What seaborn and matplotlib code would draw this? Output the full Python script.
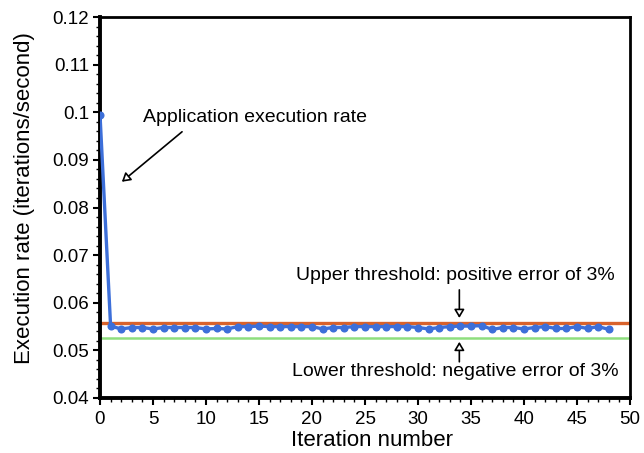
import numpy as np
import pandas as pd
import seaborn as sns
import matplotlib
matplotlib.use("Agg")
import matplotlib.pyplot as plt
from matplotlib.ticker import MultipleLocator

iterations = list(range(0, 49))
rates = [0.0995,
         0.0551, 0.0545, 0.0548, 0.0548, 0.0545, 0.0548, 0.0548, 0.0548, 0.0548, 0.0545,
         0.0546, 0.0545, 0.0550, 0.0550, 0.0551, 0.0550, 0.0550, 0.0550, 0.0550, 0.0550,
         0.0545, 0.0548, 0.0548, 0.0550, 0.0550, 0.0550, 0.0550, 0.0550, 0.0550, 0.0548,
         0.0545, 0.0548, 0.0550, 0.0551, 0.0551, 0.0552, 0.0544, 0.0548, 0.0548, 0.0545,
         0.0548, 0.0550, 0.0546, 0.0546, 0.0550, 0.0546, 0.0550, 0.0544]
upper_threshold = 0.0557
lower_threshold = 0.0525
x_ticks = [0, 5, 10, 15, 20, 25, 30, 35, 40, 45, 50]
y_ticks = [0.04, 0.05, 0.06, 0.07, 0.08, 0.09, 0.1, 0.11, 0.12]
y_tick_labels = ["0.04", "0.05", "0.06", "0.07", "0.08", "0.09", "0.1", "0.11", "0.12"]

df = pd.DataFrame({"Iteration": iterations, "Rate": rates})

sns.set_style("ticks")
plt.rcParams["font.family"] = ["Liberation Sans", "DejaVu Sans"]
plt.rcParams["text.color"] = "black"
plt.rcParams["axes.labelcolor"] = "black"
plt.rcParams["xtick.color"] = "black"
plt.rcParams["ytick.color"] = "black"

fig = plt.figure(figsize=(6.44, 4.53), dpi=100)
ax = fig.add_axes([100/644, 1-398/453, 530/644, 381/453])

ax.axhline(upper_threshold, color="#d9622b", lw=2.4, zorder=2)
ax.axhline(lower_threshold, color="#8ede7e", lw=1.8, zorder=2)
sns.lineplot(data=df, x="Iteration", y="Rate", ax=ax, color="#3d6fd9", lw=2.4,
             marker="o", markersize=5.8, markeredgewidth=0, zorder=3)

ax.set_xlim(0, 50)
ax.set_ylim(0.04, 0.12)
ax.set_xticks(x_ticks)
ax.set_yticks(y_ticks)
ax.set_yticklabels(y_tick_labels)
ax.xaxis.set_minor_locator(MultipleLocator(1))
ax.yaxis.set_minor_locator(MultipleLocator(0.002))
ax.tick_params(axis="both", which="major", labelsize=13.5, length=5, width=1.5, direction="out",
               color="black", labelcolor="black")
ax.tick_params(axis="y", which="major", pad=3)
ax.tick_params(axis="x", which="major", pad=4.5)
ax.tick_params(axis="both", which="minor", length=3, width=1, direction="out", color="black")
ax.set_xlabel("Iteration number", fontsize=16, labelpad=1.5, color="black")
ax.set_ylabel("Execution rate (iterations/second)", fontsize=16, labelpad=12, color="black")
ax.xaxis.label.set_x(0.513)
ax.yaxis.label.set_y(0.526)

for side in ["left", "bottom"]:
    ax.spines[side].set_linewidth(2.8)
    ax.spines[side].set_color("black")
for side in ["top", "right"]:
    ax.spines[side].set_visible(True)
    ax.spines[side].set_linewidth(2.0)
    ax.spines[side].set_color("black")

arrow = dict(arrowstyle="-|>,head_length=0.5,head_width=0.3", color="black", lw=1.2,
             fc="white", mutation_scale=10, shrinkA=0, shrinkB=0)
ax.annotate("", xy=(2.06, 0.0854), xytext=(7.74, 0.0959), arrowprops=arrow)
ax.text(4.05, 0.0990, "Application execution rate", fontsize=14, ha="left", va="center")

ax.text(33.5, 0.0658, "Upper threshold: positive error of 3%", fontsize=14, ha="center", va="center")
ax.annotate("", xy=(33.9, 0.0568), xytext=(33.9, 0.0627), arrowprops=arrow)

ax.text(33.5, 0.0455, "Lower threshold: negative error of 3%", fontsize=14, ha="center", va="center")
ax.annotate("", xy=(33.9, 0.0518), xytext=(33.9, 0.0476), arrowprops=arrow)

fig.savefig("out.png", dpi=100)
